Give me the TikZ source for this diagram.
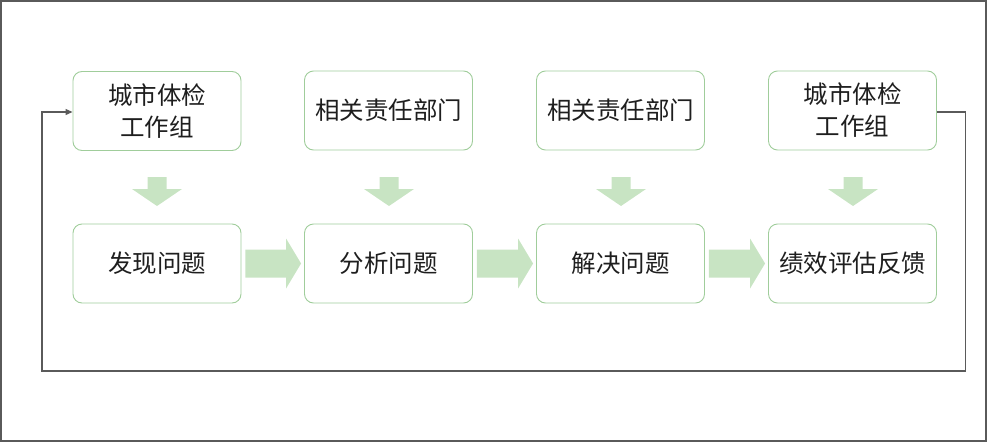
\documentclass[tikz,border=0pt]{standalone}
\usepackage{fontspec}
\setmainfont{Noto Sans CJK SC}
\usetikzlibrary{arrows.meta,calc}
\definecolor{boxline}{RGB}{160,205,155}
\definecolor{arrowfill}{RGB}{200,228,195}
\definecolor{txt}{RGB}{30,30,30}
\definecolor{frame}{RGB}{90,90,90}
\newcommand{\downarrowshape}[1]{%
  \fill[arrowfill] ($(#1)+(-9.5,-14.5)$) -- ($(#1)+(9.5,-14.5)$) -- ($(#1)+(9.5,-2.5)$) -- ($(#1)+(25,-2.5)$) -- ($(#1)+(0,14.5)$) -- ($(#1)+(-25,-2.5)$) -- ($(#1)+(-9.5,-2.5)$) -- cycle;}
\newcommand{\rightarrowshape}[2]{%
  \fill[arrowfill] ($(#1.east)+(4,-14)$) -- ($(#2.west)+(-18,-14)$) -- ($(#2.west)+(-18,-25)$) -- ($(#2.west)+(-3,0)$) -- ($(#2.west)+(-18,25)$) -- ($(#2.west)+(-18,14)$) -- ($(#1.east)+(4,14)$) -- cycle;}
\begin{document}
\begin{tikzpicture}[x=1pt,y=-1pt,
  stepbox/.style={draw=boxline,line width=0.9pt,rounded corners=9pt,minimum width=168pt,minimum height=79pt,inner sep=0pt,align=center,font=\fontsize{24.5}{32}\selectfont,text=txt},
  loopline/.style={draw=frame,line width=1.1pt}]
\useasboundingbox (0,0) rectangle (987,442);
\draw[draw=frame,line width=1.8pt] (1,1) rectangle (986,441);
\node[stepbox] (t1) at (157,111) {城市体检\\工作组};
\node[stepbox] (t2) at (388.5,110.5) {相关责任部门};
\node[stepbox] (t3) at (620.5,110.5) {相关责任部门};
\node[stepbox] (t4) at (852.5,110.5) {城市体检\\工作组};
\node[stepbox] (b1) at (157,263.5) {发现问题};
\node[stepbox] (b2) at (388.5,263.5) {分析问题};
\node[stepbox] (b3) at (620.5,263.5) {解决问题};
\node[stepbox] (b4) at (852.5,263.5) {绩效评估反馈};
\coordinate (d1) at (157,191.5);
\coordinate (d2) at (389,191.5);
\coordinate (d3) at (621,191.5);
\coordinate (d4) at (853,191.5);
\downarrowshape{d1}
\downarrowshape{d2}
\downarrowshape{d3}
\downarrowshape{d4}
\rightarrowshape{b1}{b2}
\rightarrowshape{b2}{b3}
\rightarrowshape{b3}{b4}
\coordinate (c1) at (965.5,112);
\coordinate (c2) at (965.5,371);
\coordinate (c3) at (42,371);
\coordinate (c4) at (42,112);
\draw[loopline,-{Triangle[length=7pt,width=6pt]}] (t4.east|-c1) -- (c1) -- (c2) -- (c3) -- (c4) -- (t1.west|-c4);
\end{tikzpicture}
\end{document}
